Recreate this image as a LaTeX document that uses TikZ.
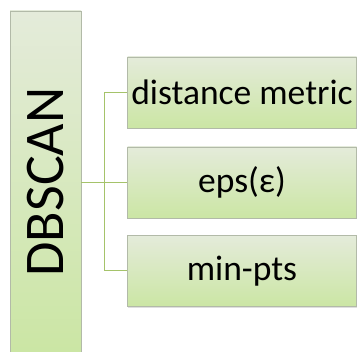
\documentclass[tikz,border=0pt]{standalone}
\usepackage{fontspec}
\usepackage{graphicx}
\setmainfont{Carlito}
\usetikzlibrary{shadows}
\definecolor{boxtop}{HTML}{E4EBDA}
\definecolor{boxbot}{HTML}{CBE6A4}
\definecolor{boxline}{HTML}{B2BAA8}
\definecolor{linkgreen}{HTML}{A5C36A}
\tikzset{
  card/.style={draw=boxline, line width=0.8pt, top color=boxtop, bottom color=boxbot,
    inner sep=0pt, text=black,
    drop shadow={shadow xshift=0.8pt, shadow yshift=-1.2pt, opacity=0.25}},
  rootbox/.style={card, minimum width=71pt, minimum height=342pt,
    font=\fontsize{56}{60}\selectfont},
  leaf/.style={card, minimum width=229pt, minimum height=71pt,
    font=\fontsize{35.5}{40}\selectfont},
  link/.style={draw=linkgreen, line width=1pt}
}
\begin{document}
\begin{tikzpicture}[x=1pt,y=-1pt]
  \useasboundingbox (0,0) rectangle (357,352);
  \clip (0,0) rectangle (357,352);
  % root column
  \node[rootbox] (root) at (45.5,182) {\rotatebox{90}{DBSCAN}};
  % parameter cards
  \node[leaf] (dist) at (242,92.5) {distance metric};
  \node[leaf] (eps)  at (242,182.5) {eps(ε)};
  \node[leaf] (mp)   at (242,271) {min-pts};
  % bracket connectors
  \coordinate (trunk) at (104,0);
  \draw[link] (eps.west -| root.east) -- (eps.west);
  \draw[link] (dist.west) -- (dist.west -| trunk) -- (mp.west -| trunk) -- (mp.west);
\end{tikzpicture}
\end{document}
